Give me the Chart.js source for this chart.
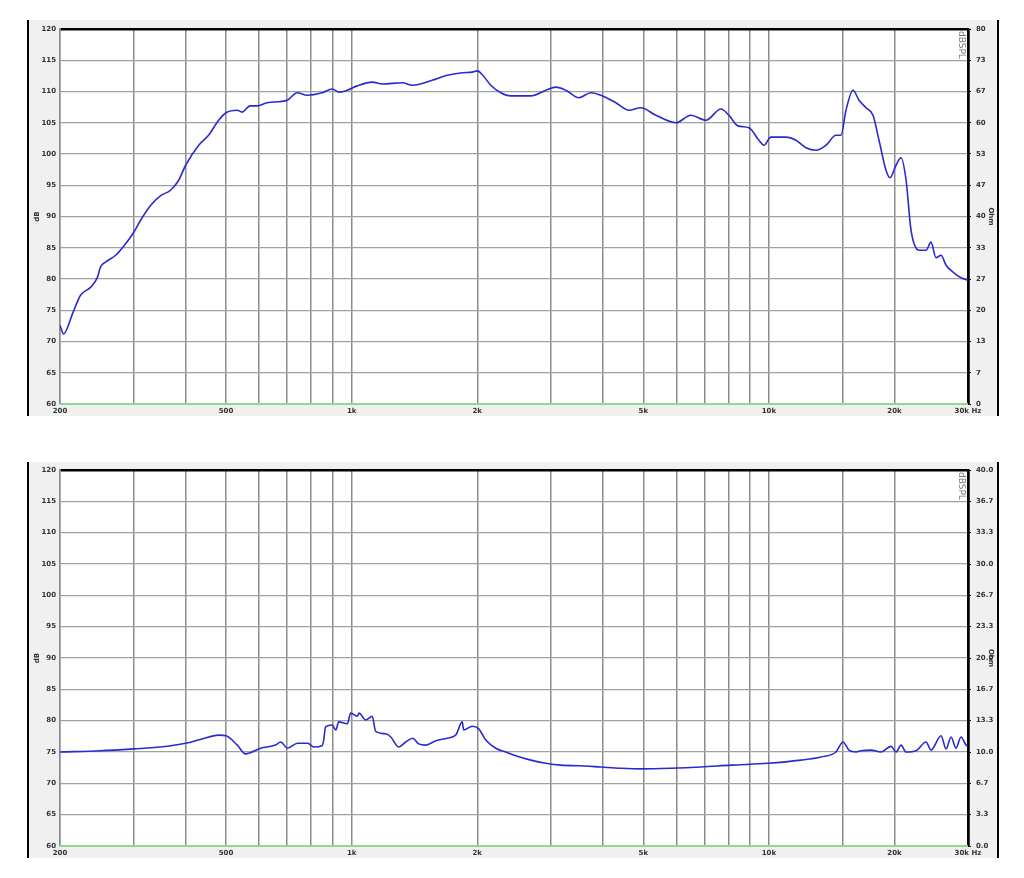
<!DOCTYPE html>
<html><head><meta charset="utf-8">
<script src="https://cdn.jsdelivr.net/npm/chart.js@4"></script>
<style>
html,body{margin:0;padding:0;background:#fff;width:1024px;height:878px;overflow:hidden}
.panel{position:absolute;left:27px;width:968px;height:396px;background:#f0f0f0;border-left:2px solid #000;border-right:2px solid #000}
canvas{position:absolute;left:0;top:0}
</style></head><body>
<div class="panel" style="top:20px"><canvas id="c1" width="968" height="396"></canvas></div>
<div class="panel" style="top:462px"><canvas id="c2" width="968" height="396"></canvas></div>
<script>
// ---- data ----
const gridFreqs = [200,300,400,500,600,700,800,900,1000,2000,3000,4000,5000,6000,7000,8000,9000,10000,15000,20000,30000];
const freqLabels = {200:'200',500:'500',1000:'1k',2000:'2k',5000:'5k',10000:'10k',20000:'20k',30000:'30k Hz'};
const dbTicks = [60,65,70,75,80,85,90,95,100,105,110,115,120];
const ohmLabelsTop = ['0','7','13','20','27','33','40','47','53','60','67','73','80'];
const ohmLabelsBottom = ['0.0','3.3','6.7','10.0','13.3','16.7','20.0','23.3','26.7','30.0','33.3','36.7','40.0'];

const topFreq = [200,204,215,224,237,246,250,257,272,287,300,312,330,348,368,385,400,430,454,480,500,532,546,571,594,627,701,740,782,850,898,934,976,1031,1120,1184,1322,1397,1560,1695,1841,1945,2003,2062,2155,2277,2406,2687,2920,3086,3261,3502,3743,3956,4297,4615,4932,5360,5985,6502,7064,7672,8020,8428,8955,9463,9730,10110,10986,11610,12268,12966,13700,14478,14884,15300,15904,16440,17090,17762,18360,19082,19508,20166,20734,21318,21908,22899,23797,24458,25137,25851,26577,27620,28860,30000];
const topDb = [72.6,71.2,74.7,77.4,78.7,80.3,81.9,82.7,83.8,85.6,87.4,89.4,91.8,93.3,94.2,95.8,98.2,101.4,103,105.4,106.6,107,106.7,107.7,107.7,108.2,108.6,109.8,109.4,109.8,110.4,109.9,110.2,110.9,111.5,111.2,111.4,111,111.8,112.6,113,113.1,113.3,112.6,111,109.8,109.3,109.3,110.2,110.7,110.2,109,109.8,109.4,108.2,107,107.4,106.2,105,106.2,105.4,107.2,106.2,104.5,104.2,102.2,101.4,102.7,102.7,102.2,101,100.6,101.4,103,103,107,110.2,108.6,107.4,106.2,102.2,97.4,96.2,98.2,99.4,95.8,87.8,84.6,84.6,85.9,83.4,83.8,82.2,81.1,80.2,79.8];

const botFreq = [200,250,300,348,400,434,480,500,532,557,605,657,676,702,742,785,811,850,857,866,898,916,931,976,995,1031,1042,1081,1120,1142,1207,1241,1297,1348,1401,1448,1505,1591,1695,1776,1841,1856,1945,2017,2096,2215,2340,2474,2687,2920,3172,3542,3956,4418,4932,5822,6872,8110,9960,11934,13328,14478,15048,15556,16174,16626,17564,18562,19614,20166,20734,21318,22520,23797,24458,25851,26577,27320,28080,28860,29680,30000];
const botDb = [75.0,75.2,75.5,75.8,76.4,77.0,77.7,77.6,76.1,74.7,75.6,76.1,76.6,75.6,76.4,76.4,75.8,76.0,76.9,79.0,79.3,78.5,79.8,79.5,81.2,80.7,81.2,80.1,80.7,78.3,77.9,77.4,75.8,76.6,77.2,76.3,76.1,76.8,77.2,77.7,79.8,78.5,79.1,78.7,76.9,75.6,75.0,74.4,73.7,73.2,72.9,72.8,72.6,72.4,72.3,72.4,72.6,72.9,73.2,73.7,74.2,75.0,76.6,75.3,75.0,75.2,75.3,75.0,75.9,75.0,76.1,75.0,75.2,76.6,75.3,77.6,75.5,77.4,75.6,77.4,76.1,75.9];

const impFreq = [200,30000];
const impTop = [0,0];
const impBottom = [0,0];

// ---- chart builder ----
const labelFont = {family:'DejaVu Sans', size:7, weight:'bold'};
const gridCol = '#a0a0a0';

const plotBg = {
  id:'plotBg',
  beforeDraw(chart){
    const a = chart.chartArea, ctx = chart.ctx;
    ctx.save();
    ctx.fillStyle = '#ffffff';
    ctx.fillRect(a.left, a.top, a.right - a.left, a.bottom - a.top);
    ctx.restore();
  }
};

const innerText = {
  id:'innerText',
  afterDraw(chart){
    const a = chart.chartArea, ctx = chart.ctx;
    ctx.save();
    ctx.fillStyle = '#777';
    ctx.font = '9px "DejaVu Sans"';
    ctx.translate(a.right - 7, a.top + 2);
    ctx.rotate(Math.PI/2);
    ctx.textBaseline = 'middle';
    ctx.fillText('dBSPL', 0, 0);
    ctx.restore();
  }
};

function makeChart(id, freqs, vals, impVals, rightMax, rightLabels, padTop){
  const ctx = document.getElementById(id);
  return new Chart(ctx, {
    type:'line',
    data:{datasets:[
      {data: freqs.map((f,i)=>({x:f,y:vals[i]})), yAxisID:'y', borderColor:'#2a2ad0', borderWidth:1.6, pointRadius:0, cubicInterpolationMode:'monotone', fill:false},
      {data: impFreq.map((f,i)=>({x:f,y:impVals[i]})), yAxisID:'y2', borderColor:'#8fd88f', borderWidth:2, pointRadius:0, fill:false, clip:4}
    ]},
    options:{
      responsive:false, animation:false, devicePixelRatio:1,
      layout:{padding:{top:padTop,left:0,right:0,bottom:0}},
      plugins:{legend:{display:false}, tooltip:{enabled:false}},
      scales:{
        x:{type:'logarithmic', min:200, max:30000,
          afterBuildTicks:s=>{s.ticks = gridFreqs.map(v=>({value:v}));},
          afterFit:s=>{s.height=12; s.paddingLeft=0; s.paddingRight=0;},
          grid:{color:c=>c.tick && c.tick.value===30000 ? '#000' : '#8c8c8c', lineWidth:c=>c.tick && c.tick.value===30000 ? 2.5 : 1.5, drawTicks:false},
          border:{display:false},
          ticks:{autoSkip:false, maxRotation:0, padding:3, font:labelFont, color:'#333', callback:v=>freqLabels[v]||''}
        },
        y:{position:'left', min:60, max:120,
          afterBuildTicks:s=>{s.ticks = dbTicks.map(v=>({value:v}));},
          afterFit:s=>{s.width=31; s.paddingTop=0; s.paddingBottom=0;},
          grid:{color:c=>c.tick && c.tick.value===120 ? '#000' : gridCol, lineWidth:c=>c.tick && c.tick.value===120 ? 2.5 : 1.2, drawTicks:false},
          border:{color:'#8c8c8c', width:1.5},
          title:{display:true, text:'dB', font:{family:'DejaVu Sans', size:7, weight:'bold'}, color:'#333', padding:{top:4,bottom:0}},
          ticks:{padding:4, font:labelFont, color:'#333'}
        },
        y2:{position:'right', min:0, max:rightMax,
          afterBuildTicks:s=>{s.ticks = rightLabels.map((t,i)=>({value:i*rightMax/12}));},
          afterFit:s=>{s.width=29; s.paddingTop=0; s.paddingBottom=0;},
          grid:{drawOnChartArea:false, drawTicks:true, tickLength:3, color:'#000'},
          border:{color:'#000', width:2.5},
          title:{display:true, text:'Ohm', font:{family:'DejaVu Sans', size:7, weight:'bold'}, color:'#333', padding:{top:2,bottom:2}},
          ticks:{padding:5, font:labelFont, color:'#333', callback:(v,i)=>rightLabels[i]}
        }
      }
    },
    plugins:[plotBg, innerText]
  });
}

makeChart('c1', topFreq, topDb, impTop, 80, ohmLabelsTop, 9);
makeChart('c2', botFreq, botDb, impBottom, 40, ohmLabelsBottom, 8);
</script>
</body></html>
